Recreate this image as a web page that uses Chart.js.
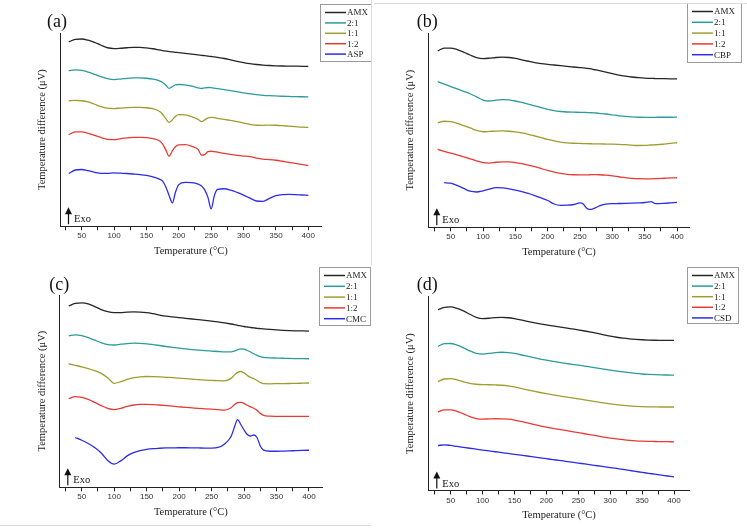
<!DOCTYPE html>
<html>
<head>
<meta charset="utf-8">
<script src="https://cdn.jsdelivr.net/npm/chart.js@4.4.1/dist/chart.umd.min.js"></script>
<style>
  body { margin: 0; background: #fff; }
  #wrap { position: relative; width: 747px; height: 530px; overflow: hidden; background: #fff; }
  .panel { position: absolute; }
  .panel canvas { display: block; }
  .sep { position: absolute; background: #dcdcdc; }
</style>
</head>
<body>
<div id="wrap">
  <div class="panel" style="left:0;top:0"><canvas id="chartA" width="374" height="265"></canvas></div>
  <div class="panel" style="left:374px;top:0"><canvas id="chartB" width="373" height="265"></canvas></div>
  <div class="panel" style="left:0;top:265px"><canvas id="chartC" width="374" height="265"></canvas></div>
  <div class="panel" style="left:374px;top:265px"><canvas id="chartD" width="373" height="265"></canvas></div>
  <div class="sep" style="left:371px;top:0;width:1px;height:265px"></div>
  <div class="sep" style="left:374px;top:3px;width:373px;height:1px"></div>
  <div class="sep" style="left:0;top:525px;width:371px;height:1px"></div>
</div>
<script>
// x axis ticks (°C), labels only on every 50
const xTickValues = [25, 50, 75, 100, 125, 150, 175, 200, 225, 250, 275, 300, 325, 350, 375, 400];
const xTickLabels = ["", "50", "", "100", "", "150", "", "200", "", "250", "", "300", "", "350", "", "400"];

// (a) AMX + ASP
const namesA = ["AMX", "2:1", "1:1", "1:2", "ASP"];
const tempsA = [30, 40, 50, 60, 70, 80, 90, 100, 110, 120, 130, 140, 150, 160, 170, 175, 180, 185, 190, 195, 200, 210, 220, 230, 235, 240, 245, 250, 255, 260, 270, 280, 290, 300, 310, 320, 330, 340, 350, 360, 370, 380, 390, 400];
const aAMX = [186, 188.6, 189, 187.8, 185.6, 182.7, 180.2, 179.4, 179.7, 180.2, 180.5, 180.5, 180, 179.2, 178, 177.4, 176.9, 176.4, 176, 175.6, 175.2, 174.5, 173.8, 173, 172.6, 172.2, 171.8, 171.4, 171, 170.5, 169.4, 168, 166.6, 165.3, 164.2, 163.4, 162.8, 162.4, 162.1, 161.9, 161.8, 161.7, 161.6, 161.6];
const a21 = [157, 158, 157.5, 155.8, 153.5, 151.2, 149.2, 148.3, 148.8, 149.5, 149.9, 150, 149.6, 148.7, 147, 145.3, 142.5, 139.5, 141.2, 142.9, 143.3, 142.9, 141.6, 140, 139.3, 139.9, 140.3, 140.1, 139.6, 139.1, 138.2, 137.2, 136.1, 135, 134, 133.1, 132.5, 132.1, 131.8, 131.5, 131.3, 131.1, 131, 130.9];
const a11 = [127, 127.3, 127, 125.8, 123.5, 121.2, 119.5, 119.2, 119.7, 120.1, 120.3, 120.3, 120, 119, 116.5, 113.5, 109, 105.3, 107.8, 111.5, 113, 112.8, 111, 108.3, 106, 107.8, 109.8, 110.3, 110, 109.4, 108.3, 107.2, 106, 104.6, 103.3, 102.4, 102.3, 102.6, 102.4, 102, 101.5, 101, 100.5, 100.2];
const a12 = [93, 95.8, 95.8, 94.3, 92.2, 90.1, 88.3, 87.9, 88.9, 89.8, 90.2, 90.3, 90, 89, 86.8, 83.5, 77.5, 71.3, 76.8, 81, 82.8, 82.9, 81.2, 78, 72.5, 73, 76, 76.3, 76, 75.4, 74.2, 73.2, 72.2, 71.5, 71, 69.5, 68.5, 68, 67.3, 66.3, 65.2, 64.2, 63.1, 62];
const aASP = [54, 57.5, 58, 56.8, 55.2, 54.2, 54.2, 54.6, 54.3, 54, 53.5, 52.9, 52, 50.6, 48.4, 46.3, 40.5, 32, 24.5, 35.5, 42.8, 45, 44.8, 43.3, 41.5, 37.5, 30, 18.5, 32, 38, 38.7, 37.3, 35, 32.3, 29.2, 26.4, 26, 29, 31.7, 32.8, 33, 32.8, 32.4, 32];

// (b) AMX + CBP
const namesB = ["AMX", "2:1", "1:1", "1:2", "CBP"];
const tempsB = [30, 40, 50, 60, 70, 80, 90, 100, 110, 120, 130, 140, 150, 160, 170, 180, 190, 200, 210, 220, 230, 240, 250, 255, 260, 265, 270, 275, 280, 290, 300, 310, 320, 330, 340, 350, 360, 365, 370, 380, 390, 400];
const bAMX = [178, 180.8, 180.8, 179.3, 176.8, 173.8, 171.2, 170.2, 170.6, 171.3, 171.6, 171.3, 170.3, 168.9, 167.5, 166.2, 165.2, 164.4, 163.7, 163, 162.3, 161.7, 161.1, 160.8, 160.4, 160, 159.4, 158.7, 158, 156.5, 155, 153.6, 152.5, 151.6, 151, 150.5, 150.2, 150.1, 150, 149.9, 149.8, 149.7];
const b21 = [147, 144.5, 142, 139.6, 137.2, 134.7, 131.6, 128.4, 127.4, 128.3, 128.8, 128.5, 127.4, 125.9, 124.3, 122.6, 120.8, 119, 117.6, 116.8, 116.3, 116.1, 116, 115.9, 115.8, 115.7, 115.5, 115.3, 115, 114.3, 113.4, 112.5, 111.8, 111.3, 111, 110.9, 110.9, 110.9, 111, 111, 111, 111.1];
const b11 = [105.5, 107, 106.5, 104.8, 102.5, 100.2, 97.8, 96.4, 96.7, 97.1, 97.2, 96.9, 96.2, 95.2, 93.8, 92.1, 90.4, 88.7, 87.2, 86, 85.2, 84.8, 84.6, 84.5, 84.4, 84.3, 84.2, 84.2, 84.1, 84, 83.9, 83.7, 83.3, 82.8, 82.5, 82.6, 83, 83.2, 83.4, 84, 84.6, 85.3];
const b12 = [78.5, 76.6, 74.8, 73, 71.1, 69.1, 67.1, 65.2, 64.8, 65.6, 66, 65.9, 65.3, 64.2, 62.8, 61.1, 59.2, 57.3, 55.6, 54.3, 53.4, 53, 52.9, 52.9, 52.9, 53, 53.1, 53.1, 53, 52.6, 51.9, 51, 50.1, 49.4, 49, 48.9, 48.9, 49, 49.2, 49.5, 49.8, 50];
const bCBP = [null, 45, 44.5, 42.2, 39.2, 36.4, 35.6, 36.8, 38.6, 40, 39.8, 38.8, 37.5, 36, 34.2, 32, 29.6, 27, 23.5, 22.2, 22.3, 23, 24.6, 23.5, 19.5, 18, 18.6, 20, 21.7, 23.4, 23.9, 24, 24.1, 24.3, 24.6, 25, 26, 24.2, 23.8, 24.2, 24.7, 25.2];

// (c) AMX + CMC
const namesC = ["AMX", "2:1", "1:1", "1:2", "CMC"];
const tempsC = [30, 40, 50, 60, 70, 80, 90, 100, 110, 120, 130, 140, 150, 160, 170, 180, 190, 200, 210, 220, 230, 240, 250, 260, 270, 280, 285, 290, 295, 300, 305, 310, 315, 320, 325, 330, 340, 350, 360, 370, 380, 390, 400];
const cAMX = [183, 185.5, 186, 185, 182.4, 179.4, 177.2, 176.3, 176.4, 176.8, 177, 176.9, 176.3, 175.2, 173.9, 172.8, 172, 171.3, 170.6, 169.9, 169.2, 168.5, 167.8, 167, 166, 164.9, 164.3, 163.6, 163, 162.4, 161.9, 161.4, 161, 160.6, 160.3, 160, 159.4, 158.9, 158.5, 158.2, 158, 157.9, 157.8];
const c21 = [153, 154, 153.2, 151.2, 148.7, 146.2, 144.2, 143.8, 144.6, 145.3, 145.6, 145.5, 145, 144.2, 143.3, 142.3, 141.4, 140.6, 139.9, 139.2, 138.6, 138.1, 137.7, 137.3, 137, 137, 137.7, 139, 140, 139.6, 138.3, 136.8, 135, 133.4, 132.2, 131.4, 130.9, 130.7, 130.5, 130.3, 130.2, 130.1, 130];
const c11 = [125, 123.4, 121.9, 120.2, 118.1, 115.3, 111, 105.3, 107, 109.3, 111, 111.9, 112.2, 112.1, 111.8, 111.4, 111, 110.5, 110, 109.5, 109, 108.6, 108.3, 108, 107.9, 110.3, 113.6, 116.3, 117.2, 115.8, 113.3, 111.3, 110, 108.2, 106.2, 105, 104.9, 105, 105.1, 105.2, 105.3, 105.5, 105.7];
const c12 = [90, 92, 91.3, 89.2, 86.2, 83, 80.2, 79, 80.2, 82.1, 83.6, 84.2, 84.2, 84, 83.6, 83, 82.4, 81.8, 81.2, 80.7, 80.2, 79.8, 79.4, 79, 78.5, 80.8, 83.8, 85.9, 86.3, 85.2, 83.3, 81.8, 80.3, 78.2, 75.2, 73.2, 72.4, 72.2, 72.1, 72.1, 72.1, 72.1, 72.1];
const cCMC = [null, 51, 48.2, 45, 41, 35.5, 28, 24.3, 27.5, 32.5, 35.8, 37.8, 39, 39.8, 40.2, 40.5, 40.6, 40.7, 40.7, 40.6, 40.5, 40.4, 40.4, 41, 44.5, 52, 61, 69, 64, 58.5, 54, 52.5, 53.5, 51, 42.5, 38.3, 37.2, 37.2, 37.4, 37.6, 37.8, 38, 38.2];

// (d) AMX + CSD
const namesD = ["AMX", "2:1", "1:1", "1:2", "CSD"];
const tempsD = [30, 40, 50, 60, 70, 80, 90, 100, 110, 120, 130, 140, 150, 160, 170, 180, 190, 200, 210, 220, 230, 240, 250, 260, 270, 280, 290, 300, 310, 320, 330, 340, 350, 360, 370, 380, 390, 400];
const dAMX = [183, 185.3, 185.8, 184.3, 181.7, 178.3, 175.3, 174, 174.3, 174.9, 175.1, 174.8, 173.9, 172.6, 171.2, 169.9, 168.7, 167.6, 166.6, 165.6, 164.6, 163.6, 162.6, 161.5, 160.3, 159, 157.6, 156.3, 155.2, 154.3, 153.6, 153.1, 152.7, 152.4, 152.2, 152.1, 152, 152];
const d21 = [146, 148.8, 148.9, 147.2, 144.6, 141.4, 139, 138.2, 138.9, 139.8, 140.1, 139.8, 138.9, 137.6, 136.1, 134.6, 133.3, 132.1, 131, 129.9, 128.9, 128, 127.1, 126.2, 125.2, 124.2, 123.2, 122.2, 121.2, 120.3, 119.5, 118.8, 118.2, 117.8, 117.5, 117.3, 117.2, 117.1];
const d11 = [110.5, 113.2, 113.6, 112.2, 110.4, 108.8, 107.9, 107.5, 107.4, 107.2, 106.9, 106.3, 105.2, 103.8, 102.3, 100.9, 99.6, 98.4, 97.3, 96.2, 95.2, 94.2, 93.2, 92.2, 91.1, 90.1, 89.1, 88.2, 87.4, 86.7, 86.1, 85.7, 85.4, 85.2, 85.1, 85, 85, 85];
const d12 = [80, 82.2, 82.2, 80.6, 78.1, 75.4, 73.4, 72.8, 73, 73.2, 73.1, 72.8, 71.9, 70.5, 69, 67.5, 66.1, 64.8, 63.6, 62.5, 61.4, 60.3, 59.2, 58.1, 57, 55.9, 54.8, 53.8, 52.9, 52.1, 51.4, 50.9, 50.6, 50.4, 50.3, 50.2, 50.1, 50];
const dCSD = [46.2, 47, 46.3, 45.3, 44.4, 43.5, 42.6, 41.7, 40.8, 40, 39.1, 38.3, 37.4, 36.5, 35.7, 34.8, 33.9, 33, 32.1, 31.3, 30.4, 29.5, 28.6, 27.7, 26.8, 25.9, 25, 24.1, 23.2, 22.2, 21.2, 20.2, 19.2, 18.3, 17.4, 16.5, 15.6, 14.7];

const lineColors = ["#262626", "#2b9b9b", "#a09c30", "#e83a35", "#2c2ce8"];
const serif = "'Liberation Serif', 'Times New Roman', serif";

// panel letter, Exo arrow and the boxed legend
const decorPlugin = {
  id: "decor",
  afterDraw(chart, args, o) {
    const ctx = chart.ctx;
    const area = chart.chartArea;
    ctx.save();
    ctx.fillStyle = "#111";
    ctx.textBaseline = "alphabetic";
    ctx.font = "18px " + serif;
    ctx.fillText(o.tag, o.tagX, o.tagY);

    const ax = area.left + 8.5;
    ctx.strokeStyle = "#111";
    ctx.lineWidth = 1.2;
    ctx.beginPath();
    ctx.moveTo(ax, area.bottom - 2);
    ctx.lineTo(ax, area.bottom - 13);
    ctx.stroke();
    ctx.beginPath();
    ctx.moveTo(ax, area.bottom - 19);
    ctx.lineTo(ax - 3.5, area.bottom - 12);
    ctx.lineTo(ax + 3.5, area.bottom - 12);
    ctx.closePath();
    ctx.fill();
    ctx.font = "10.5px " + serif;
    ctx.fillText("Exo", area.left + 14, area.bottom - 4);

    const lg = o.legend;
    ctx.strokeStyle = "#9a9a9a";
    ctx.lineWidth = 1;
    ctx.strokeRect(lg.x + 0.5, lg.y + 0.5, lg.w, lg.h);
    ctx.font = "9px " + serif;
    ctx.textBaseline = "middle";
    chart.data.datasets.forEach((ds, i) => {
      const cy = lg.y + 8.5 + i * lg.row;
      ctx.strokeStyle = ds.borderColor;
      ctx.lineWidth = 1.5;
      ctx.beginPath();
      ctx.moveTo(lg.x + 5, cy);
      ctx.lineTo(lg.x + 26, cy);
      ctx.stroke();
      ctx.fillStyle = "#222";
      ctx.fillText(ds.label, lg.x + 27, cy + 0.5);
    });
    ctx.restore();
  }
};

function makeChart(id, temps, series, names, g) {
  const datasets = series.map((vals, i) => ({
    label: names[i],
    data: temps.map((t, k) => ({ x: t, y: vals[k] })),
    borderColor: lineColors[i],
    borderWidth: 1.3,
    pointRadius: 0,
    fill: false,
    cubicInterpolationMode: "monotone"
  }));

  return new Chart(document.getElementById(id), {
    type: "line",
    data: { datasets: datasets },
    options: {
      responsive: false,
      animation: false,
      devicePixelRatio: 1,
      layout: { padding: { left: g.padLeft, right: g.padRight, top: g.padTop, bottom: g.padBottom } },
      scales: {
        x: {
          type: "linear",
          min: g.xMin,
          max: g.xMax,
          afterBuildTicks: (scale) => {
            scale.ticks = xTickValues.map((v) => ({ value: v }));
          },
          ticks: {
            autoSkip: false,
            maxRotation: 0,
            padding: 1,
            color: "#333",
            font: { family: "'Liberation Sans', Arial, sans-serif", size: 8 },
            callback: (v) => xTickLabels[xTickValues.indexOf(v)] || ""
          },
          grid: { display: true, drawOnChartArea: false, drawTicks: true, tickLength: 4, color: "#222" },
          border: { display: true, color: "#222", width: 1 },
          title: {
            display: true,
            text: "Temperature (°C)",
            color: "#222",
            font: { family: serif, size: 10.5 },
            padding: { top: 3, bottom: 0 }
          }
        },
        y: {
          min: g.yMin,
          max: g.yMax,
          ticks: { display: false },
          grid: { display: false, drawTicks: false },
          border: { display: true, color: "#222", width: 1 },
          title: {
            display: true,
            text: "Temperature difference (μV)",
            color: "#222",
            font: { family: serif, size: 10.5 },
            padding: { top: 0, bottom: g.yTitlePad }
          }
        }
      },
      plugins: {
        legend: { display: false },
        tooltip: { enabled: false },
        decor: { tag: g.tag, tagX: g.tagX, tagY: g.tagY, legend: g.legend }
      }
    },
    plugins: [decorPlugin]
  });
}

makeChart("chartA", tempsA, [aAMX, a21, a11, a12, aASP], namesA, {
  padLeft: 35.7, padRight: 52.3, padTop: 33, padBottom: 7.5, yTitlePad: 11.7,
  xMin: 16.5, xMax: 420.7, yMin: 1, yMax: 195,
  tag: "(a)", tagX: 47, tagY: 27,
  legend: { x: 320, y: 4, w: 51, h: 57, row: 10.4 }
});

makeChart("chartB", tempsB, [bAMX, b21, b11, b12, bCBP], namesB, {
  padLeft: 29.7, padRight: 57.3, padTop: 33, padBottom: 6.5, yTitlePad: 12,
  xMin: 15.4, xMax: 419.6, yMin: 0, yMax: 196,
  tag: "(b)", tagX: 42.7, tagY: 27,
  legend: { x: 313, y: 3, w: 54, h: 59, row: 10.8 }
});

makeChart("chartC", tempsC, [cAMX, c21, c11, c12, cCMC], namesC, {
  padLeft: 35.7, padRight: 51.7, padTop: 30, padBottom: 11.5, yTitlePad: 11,
  xMin: 15.5, xMax: 420.5, yMin: 1, yMax: 194,
  tag: "(c)", tagX: 49.3, tagY: 25,
  legend: { x: 319, y: 2, w: 51, h: 58, row: 10.8 }
});

makeChart("chartD", tempsD, [dAMX, d21, d11, d12, dCSD], namesD, {
  padLeft: 29.7, padRight: 57.3, padTop: 31.7, padBottom: 8.3, yTitlePad: 12,
  xMin: 14.9, xMax: 424.6, yMin: 1, yMax: 196,
  tag: "(d)", tagX: 42.7, tagY: 25,
  legend: { x: 313, y: 2, w: 51, h: 56, row: 10.6 }
});
</script>
</body>
</html>
